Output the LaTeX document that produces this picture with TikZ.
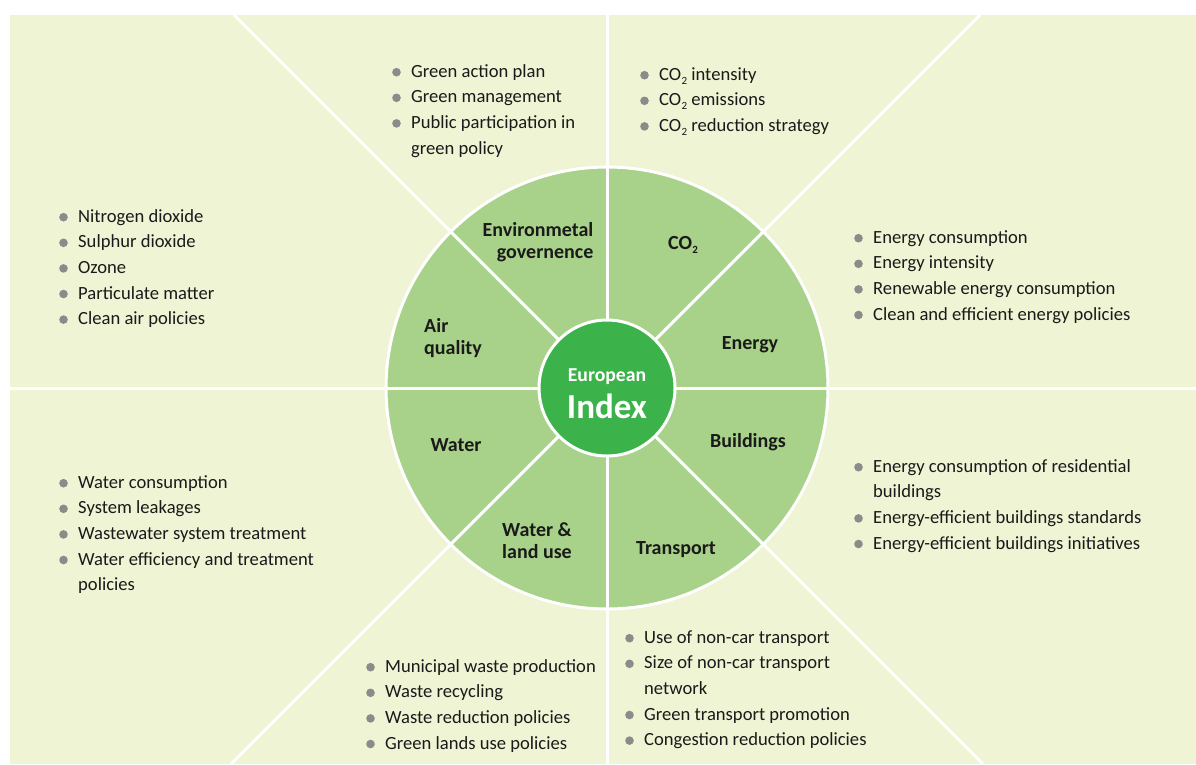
\documentclass[tikz,border=0pt]{standalone}
\usepackage{fontspec}
\setmainfont{Carlito}
\definecolor{paleleaf}{HTML}{EEF4D4}
\definecolor{sectorgreen}{HTML}{A8D28A}
\definecolor{coregreen}{HTML}{3BB34A}
\definecolor{bulgray}{HTML}{8F8A8A}
\definecolor{inktext}{HTML}{1A1A1A}
% grey round bullet followed by the indent of the item text
\newcommand\bul{\rule{0pt}{15pt}\makebox[19pt][l]{\tikz[baseline=-5pt]\fill[bulgray] (0,0) circle (4.3pt);}}
\newcommand\contd{\hspace*{19pt}}
% CO2 with a small, low subscript
\newcommand\cotwo{CO\kern0.3pt\raisebox{-4pt}{\fontsize{11}{11}\selectfont 2}}
\begin{document}
\begin{tikzpicture}[x=1pt,y=-1pt,
  divider/.style={white,line width=3pt},
  itemlist/.style={anchor=north west,inner sep=0pt,align=left,text=inktext,
    font=\fontsize{18.6}{25.6}\selectfont},
  sectorlabel/.style={inner sep=0pt,text=inktext,
    font=\fontsize{20}{22}\selectfont\bfseries}]
\useasboundingbox (0,0) rectangle (1196,764);
% background panel
\fill[paleleaf] (10,15) rectangle (1196,764);
\coordinate (c) at (607,388);
% dividing lines across the panel
\draw[divider] (10,388) -- (1196,388);
\draw[divider] (607,15) -- (607,764);
\draw[divider] (c) -- (234,15);
\draw[divider] (c) -- (980,15);
\draw[divider] (c) -- (231,764);
\draw[divider] (c) -- (983,764);
% outer wheel
\fill[sectorgreen,draw=white,line width=3pt] (c) circle (221);
\foreach \a in {0,45,...,315}
  \draw[divider] (c) -- ++(\a:221);
% central disc
\fill[coregreen,draw=white,line width=3pt] (c) circle (68);
\node[inner sep=0pt,text=white,font=\fontsize{19.7}{20}\selectfont\bfseries] (eur) at (607,377) {European};
\node[inner sep=0pt,text=white,font=\fontsize{35}{38}\selectfont\bfseries] (idx) at (607,406) {Index};
% sector labels
\node[sectorlabel,align=right] (gov) at (538,242) {Environmetal\\governence};
\node[sectorlabel] (co2) at (683,245) {\cotwo};
\node[sectorlabel] (energy) at (750,345) {Energy};
\node[sectorlabel,align=left] (air) at (453,338) {Air\\quality};
\node[sectorlabel] (water) at (456,445) {Water};
\node[sectorlabel] (build) at (748,442) {Buildings};
\node[sectorlabel,align=left] (land) at (537,541) {Water \&\\land use};
\node[sectorlabel] (trans) at (676,550) {Transport};
% indicator lists (placed by the top of the first line, baseline minus 15)
\node[itemlist] (govlist) at (392,62) {\bul Green action plan\\\bul Green management\\\bul Public participation in\\\contd green policy};
\node[itemlist] (co2list) at (640,65) {\bul \cotwo{} intensity\\\bul \cotwo{} emissions\\\bul \cotwo{} reduction strategy};
\node[itemlist] (airlist) at (59,207) {\bul Nitrogen dioxide\\\bul Sulphur dioxide\\\bul Ozone\\\bul Particulate matter\\\bul Clean air policies};
\node[itemlist] (enlist) at (854,228) {\bul Energy consumption\\\bul Energy intensity\\\bul Renewable energy consumption\\\bul Clean and efficient energy policies};
\node[itemlist] (bulist) at (854,457) {\bul Energy consumption of residential\\\contd buildings\\\bul Energy-efficient buildings standards\\\bul Energy-efficient buildings initiatives};
\node[itemlist] (walist) at (59,473) {\bul Water consumption\\\bul System leakages\\\bul Wastewater system treatment\\\bul Water efficiency and treatment\\\contd policies};
\node[itemlist] (lalist) at (366,657) {\bul Municipal waste production\\\bul Waste recycling\\\bul Waste reduction policies\\\bul Green lands use policies};
\node[itemlist] (trlist) at (625,628) {\bul Use of non-car transport\\\bul Size of non-car transport\\\contd network\\\bul Green transport promotion\\\bul Congestion reduction policies};
\end{tikzpicture}
\end{document}
